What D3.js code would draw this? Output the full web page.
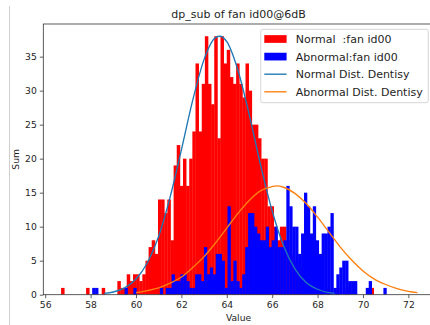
<!DOCTYPE html>
<html>
<head>
<meta charset="utf-8">
<script src="https://cdn.jsdelivr.net/npm/d3@7"></script>
<style>
  html, body { margin: 0; padding: 0; background: #ffffff; }
  svg { display: block; }
  text { font-family: "DejaVu Sans", sans-serif; fill: #1e1e1e; }
</style>
</head>
<body>
<svg id="chart" width="430" height="325"></svg>
<script>
// Histogram of dp_sub for fan id00 @ 6dB: normal vs abnormal clips (100 bins each)
const normalBinStart = 56.70;
const normalBinWidth = 0.1377;
const normalCounts = [
  1, 0, 0, 0, 0, 0, 0, 0, 1, 0,
  0, 0, 0, 1, 0, 0, 0, 0, 2, 1,
  1, 3, 2, 3, 3, 2, 3, 5, 7, 8,
  6, 14, 14, 12, 14, 8, 19, 22, 16, 20,
  16, 20, 24, 34, 24, 31, 38, 31, 28, 38,
  23, 38, 34, 36, 32, 31, 34, 31, 29, 34,
  30, 25, 25, 23, 20, 20, 13, 13, 10, 8,
  10, 10, 8, 6, 5, 5, 4, 3, 3, 2,
  2, 1, 1, 1, 0, 1, 0, 0, 1, 0,
  0, 1, 0, 0, 0, 0, 0, 0, 0, 1
];

const abnormalBinStart = 58.07;
const abnormalBinWidth = 0.1296;
const abnormalCounts = [
  1, 1, 0, 0, 0, 0, 0, 0, 0, 0,
  0, 1, 0, 0, 1, 0, 0, 0, 0, 0,
  0, 0, 0, 1, 0, 1, 1, 3, 2, 2,
  3, 3, 2, 1, 1, 3, 3, 2, 7, 3,
  4, 3, 6, 6, 5, 1, 13, 2, 5, 2,
  1, 3, 7, 12, 12, 10, 9, 8, 8, 10,
  7, 8, 10, 7, 7, 8, 16, 13, 10, 10,
  6, 9, 15, 13, 9, 13, 8, 6, 9, 9,
  10, 12, 1, 3, 4, 5, 5, 2, 2, 2,
  0, 0, 0, 1, 2, 0, 0, 0, 0, 1
];

// Fitted density curves, scaled to counts
const normalCurveX = [58.6, 59, 59.5, 60, 60.5, 61, 61.5, 62, 62.5, 63, 63.5, 63.7, 64, 64.5, 65, 65.5, 66, 66.5, 67, 67.5, 68, 68.5, 68.75];
const normalCurveY = [0.2, 0.4, 1.0, 2.3, 4.7, 8.6, 14.3, 21.3, 28.6, 34.6, 37.8, 38.0, 37.2, 32.9, 26.3, 18.9, 12.3, 7.2, 3.8, 1.8, 0.8, 0.3, 0.2];
const abnormalCurveX = [60, 60.5, 61, 61.5, 62, 62.5, 63, 63.5, 64, 64.5, 65, 65.5, 66, 66.2, 66.5, 67, 67.5, 68, 68.5, 69, 69.5, 70, 70.5, 71, 71.5, 72, 72.4];
const abnormalCurveY = [0.3, 0.6, 1.0, 1.7, 2.6, 4.0, 5.6, 7.6, 9.8, 12.0, 13.9, 15.3, 15.9, 16.0, 15.8, 14.9, 13.4, 11.4, 9.2, 7.0, 5.1, 3.5, 2.3, 1.5, 0.9, 0.5, 0.3];

const xTicks = [56, 58, 60, 62, 64, 66, 68, 70, 72];
const yTicks = [0, 5, 10, 15, 20, 25, 30, 35];

const titleText = "dp_sub of fan id00@6dB";
const xLabel = "Value";
const yLabel = "Sum";
const legendLabels = ["Normal  :fan id00", "Abnormal:fan id00", "Normal Dist. Dentisy", "Abnormal Dist. Dentisy"];

// ---- layout ----
const svg = d3.select("#chart");
const plot = { left: 43.3, right: 433.8, top: 24, bottom: 294.7 };
const x = d3.scaleLinear().domain([55.916, 73.12]).range([plot.left, plot.right]);
const y = d3.scaleLinear().domain([0, 39.8]).range([plot.bottom, plot.top]);

const colors = { normal: "#ff0000", abnormal: "#0000ff", normalLine: "#1f77b4", abnormalLine: "#ff7f0e" };

// page border line at the left
svg.append("line").attr("x1", 9.5).attr("x2", 9.5).attr("y1", 6).attr("y2", 325)
  .attr("stroke", "#cfcfcf").attr("stroke-width", 1);

svg.append("clipPath").attr("id", "plotclip").append("rect")
  .attr("x", plot.left).attr("y", plot.top)
  .attr("width", plot.right - plot.left).attr("height", plot.bottom - plot.top);

const g = svg.append("g").attr("clip-path", "url(#plotclip)");

function toBins(start, width, counts) {
  return counts.map((c, i) => ({ x0: start + i * width, x1: start + (i + 1) * width, n: c }))
    .filter(d => d.n > 0);
}

function drawBars(bins, color) {
  g.append("g").selectAll("rect").data(bins).enter().append("rect")
    .attr("x", d => x(d.x0))
    .attr("width", d => x(d.x1) - x(d.x0) + 0.35)
    .attr("y", d => y(d.n))
    .attr("height", d => y(0) - y(d.n))
    .attr("fill", color);
}

drawBars(toBins(normalBinStart, normalBinWidth, normalCounts), colors.normal);
drawBars(toBins(abnormalBinStart, abnormalBinWidth, abnormalCounts), colors.abnormal);

const line = d3.line().x(d => x(d[0])).y(d => y(d[1])).curve(d3.curveMonotoneX);
g.append("path").datum(d3.zip(normalCurveX, normalCurveY))
  .attr("d", line).attr("fill", "none").attr("stroke", colors.normalLine).attr("stroke-width", 1.35);
g.append("path").datum(d3.zip(abnormalCurveX, abnormalCurveY))
  .attr("d", line).attr("fill", "none").attr("stroke", colors.abnormalLine).attr("stroke-width", 1.35);

// ---- axes ----
const xAxis = d3.axisBottom(x).tickValues(xTicks).tickSize(3.5).tickPadding(3).tickFormat(d3.format("d"));
const yAxis = d3.axisLeft(y).tickValues(yTicks).tickSize(3.5).tickPadding(3).tickFormat(d3.format("d"));

const gx = svg.append("g").attr("transform", `translate(0,${plot.bottom})`).call(xAxis);
const gy = svg.append("g").attr("transform", `translate(${plot.left},0)`).call(yAxis);
[gx, gy].forEach(a => {
  a.select(".domain").remove();
  a.selectAll(".tick line").attr("stroke", "#333").attr("stroke-width", 0.8);
  a.selectAll(".tick text").attr("font-size", 9.2).attr("fill", "#262626").attr("font-family", "DejaVu Sans");
});

// spines
svg.append("rect").attr("x", plot.left).attr("y", plot.top)
  .attr("width", plot.right - plot.left).attr("height", plot.bottom - plot.top)
  .attr("fill", "none").attr("stroke", "#333").attr("stroke-width", 0.8);

// ---- titles ----
svg.append("text").attr("x", (plot.left + plot.right) / 2).attr("y", 17.5)
  .attr("text-anchor", "middle").attr("font-size", 11).text(titleText);
svg.append("text").attr("x", (plot.left + plot.right) / 2).attr("y", 320.5)
  .attr("text-anchor", "middle").attr("font-size", 9.2).text(xLabel);
svg.append("text").attr("transform", `translate(19,${(plot.top + plot.bottom) / 2}) rotate(-90)`)
  .attr("text-anchor", "middle").attr("font-size", 9.2).text(yLabel);

// ---- legend ----
const lg = svg.append("g");
const lgBox = { x: 260.7, y: 29.3, w: 167.6, h: 73.4 };
lg.append("rect").attr("x", lgBox.x).attr("y", lgBox.y).attr("width", lgBox.w).attr("height", lgBox.h)
  .attr("rx", 2.2).attr("fill", "#ffffff").attr("fill-opacity", 0.8)
  .attr("stroke", "#cccccc").attr("stroke-width", 0.8);
const rowY = [39, 56.6, 74.2, 91.8];
const handleX0 = 264.3, handleX1 = 286.6, textX = 295.8;
const handles = [
  { type: "patch", color: colors.normal },
  { type: "patch", color: colors.abnormal },
  { type: "line", color: colors.normalLine },
  { type: "line", color: colors.abnormalLine }
];
handles.forEach((h, i) => {
  if (h.type === "patch") {
    lg.append("rect").attr("x", handleX0).attr("y", rowY[i] - 3.85)
      .attr("width", handleX1 - handleX0).attr("height", 7.7).attr("fill", h.color);
  } else {
    lg.append("line").attr("x1", handleX0).attr("x2", handleX1).attr("y1", rowY[i]).attr("y2", rowY[i])
      .attr("stroke", h.color).attr("stroke-width", 1.35);
  }
  lg.append("text").attr("x", textX).attr("y", rowY[i] + 4)
    .attr("font-size", 11).style("white-space", "pre").text(legendLabels[i]);
});
</script>
</body>
</html>
